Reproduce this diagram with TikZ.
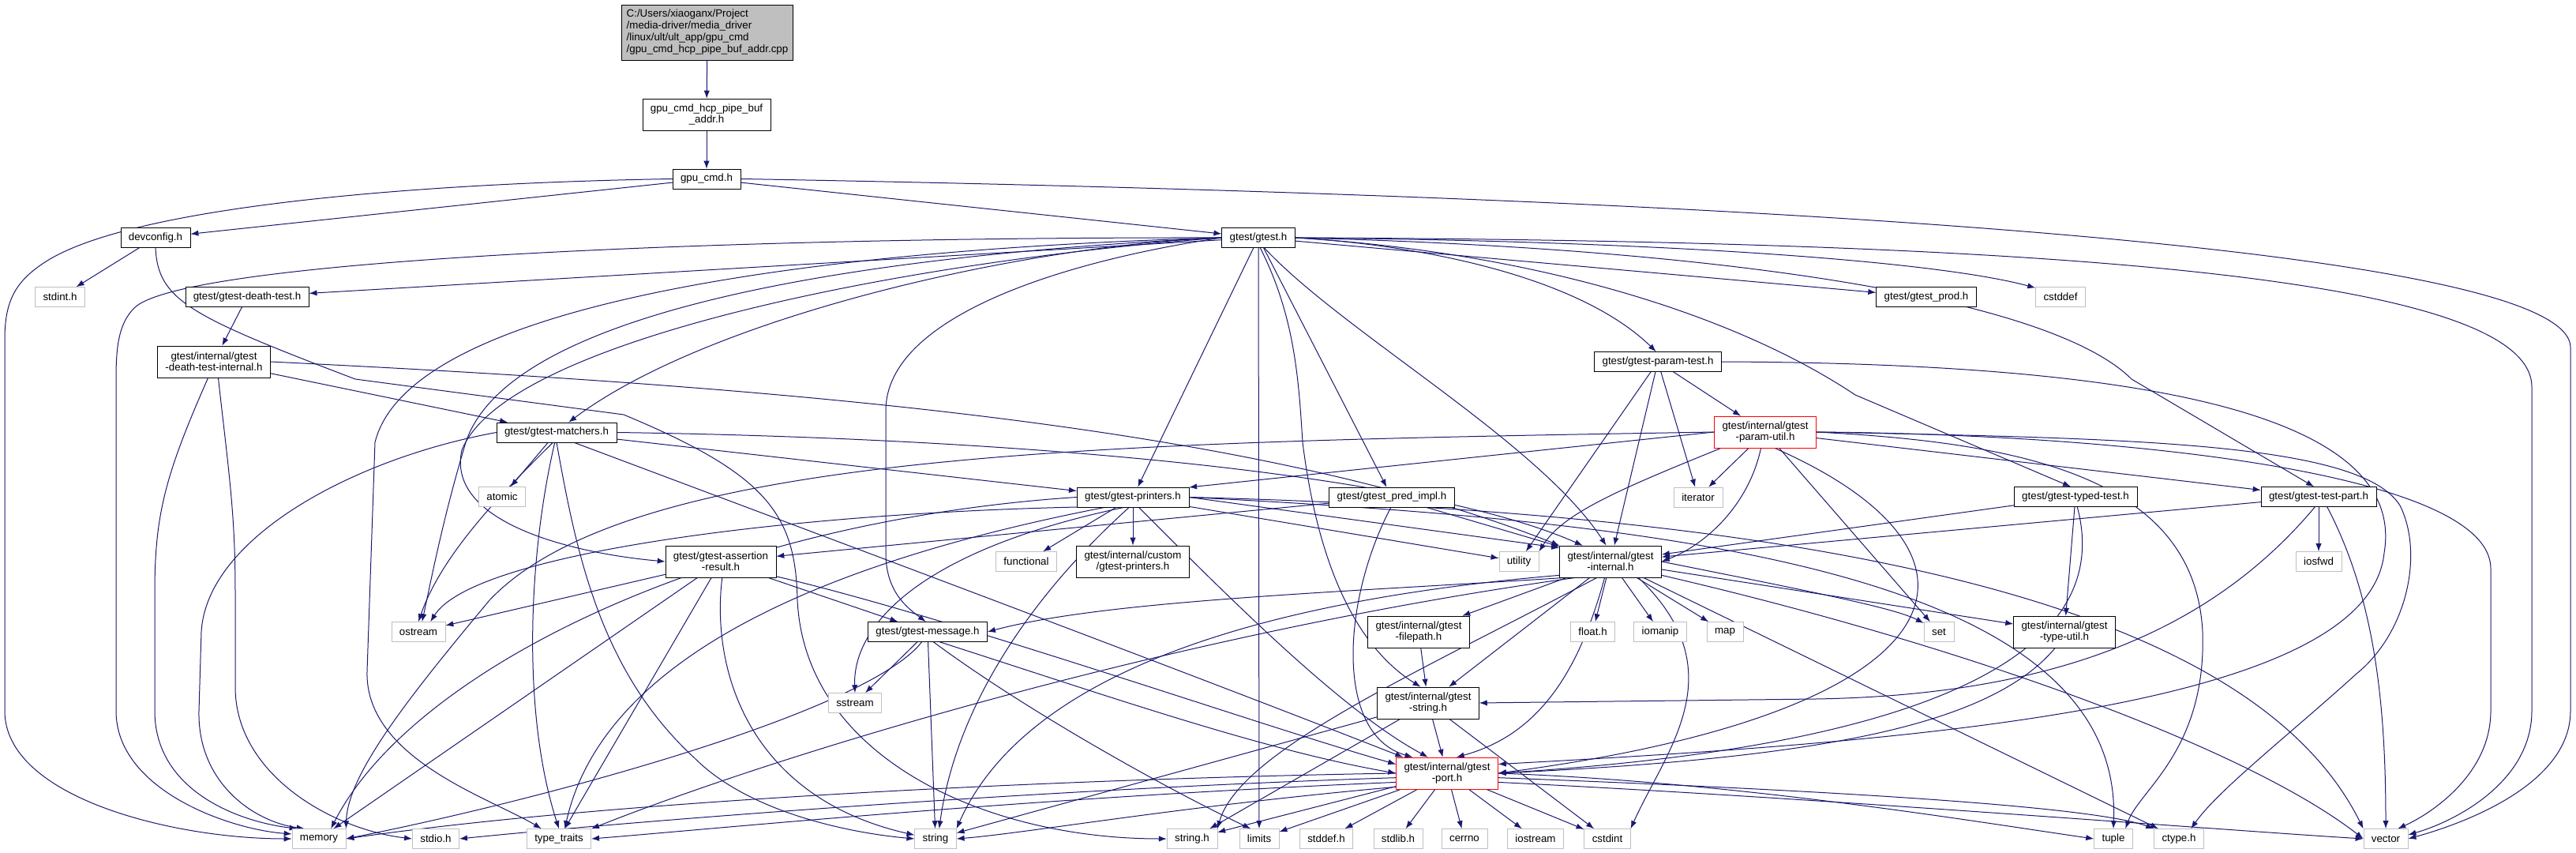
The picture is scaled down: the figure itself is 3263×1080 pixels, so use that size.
\documentclass[tikz,border=0pt]{standalone}
\usepackage{fontspec}
\setmainfont{Liberation Sans}
\usetikzlibrary{arrows,arrows.meta}
\definecolor{edgeblue}{RGB}{25,25,112}
\definecolor{sysgray}{RGB}{191,191,191}
\pgfdeclarelayer{edges}
\pgfsetlayers{edges,main}
\tikzstyle{hdr} = [draw=black, fill=white, minimum height=18.75pt, inner xsep=7.5pt, inner ysep=0pt, align=center, font=\fontsize{10}{10.5}\selectfont]
\tikzstyle{hdrtwo} = [hdr, minimum height=30pt]
\tikzstyle{sys} = [hdr, draw=sysgray]
\tikzstyle{trunctwo} = [hdrtwo, draw=red]
\tikzstyle{rootfile} = [hdr, fill=sysgray, align=left, inner xsep=4.5pt, minimum height=52.5pt, font=\fontsize{10}{11.25}\selectfont]
\tikzstyle{dep} = [style={->,>={Latex[length=7.5pt,width=5.5pt]},draw=edgeblue,line width=0.75pt}]

\begin{document}
\begin{tikzpicture}[x=0.75pt,y=-0.75pt]
        \useasboundingbox (0,0) rectangle (3263,1080);
        \node[rootfile] (root) at (896,41) {C:/Users/xiaoganx/Project\\/media-driver/media\_driver\\/linux/ult/ult\_app/gpu\_cmd\\/gpu\_cmd\_hcp\_pipe\_buf\_addr.cpp};
        \node[hdrtwo] (addrh) at (895,145) {gpu\_cmd\_hcp\_pipe\_buf\\\_addr.h};
        \node[hdr] (gpucmd) at (895,226.5) {gpu\_cmd.h};
        \node[hdr] (devcfg) at (197,301) {devconfig.h};
        \node[hdr] (gtest) at (1594,301) {gtest/gtest.h};
        \node[sys] (stdint) at (76,376) {stdint.h};
        \node[hdr] (death) at (313,376) {gtest/gtest-death-test.h};
        \node[hdr] (prod) at (2440,376) {gtest/gtest\_prod.h};
        \node[sys] (cstddef) at (2610,376) {cstddef};
        \node[hdrtwo] (deathint) at (271,458) {gtest/internal/gtest\\-death-test-internal.h};
        \node[hdr] (paramtest) at (2100,458) {gtest/gtest-param-test.h};
        \node[trunctwo] (paramutil) at (2236,547) {gtest/internal/gtest\\-param-util.h};
        \node[hdr] (matchers) at (705,547.5) {gtest/gtest-matchers.h};
        \node[sys] (atomic) at (636,629) {atomic};
        \node[sys] (iterator) at (2151,629.5) {iterator};
        \node[hdr] (printers) at (1435,629.5) {gtest/gtest-printers.h};
        \node[hdr] (predimpl) at (1763,629.5) {gtest/gtest\_pred\_impl.h};
        \node[hdr] (typed) at (2629,629) {gtest/gtest-typed-test.h};
        \node[hdr] (testpart) at (2937,629) {gtest/gtest-test-part.h};
        \node[sys] (functional) at (1300,711) {functional};
        \node[hdrtwo] (custom) at (1435,711) {gtest/internal/custom\\/gtest-printers.h};
        \node[sys] (utility) at (1924,711) {utility};
        \node[hdrtwo] (internal) at (2040,711) {gtest/internal/gtest\\-internal.h};
        \node[hdrtwo] (assertion) at (913,711) {gtest/gtest-assertion\\-result.h};
        \node[sys] (iosfwd) at (2937,711) {iosfwd};
        \node[sys] (ostream) at (530,800) {ostream};
        \node[hdr] (message) at (1175,800) {gtest/gtest-message.h};
        \node[hdrtwo] (filepath) at (1797,800) {gtest/internal/gtest\\-filepath.h};
        \node[sys] (floath) at (2017.5,800) {float.h};
        \node[sys] (iomanip) at (2103,800) {iomanip};
        \node[sys] (map) at (2185,800) {map};
        \node[sys] (set) at (2456,800) {set};
        \node[hdrtwo] (typeutil) at (2615,800) {gtest/internal/gtest\\-type-util.h};
        \node[sys] (sstream) at (1083,890) {sstream};
        \node[hdrtwo] (gstring) at (1809,890) {gtest/internal/gtest\\-string.h};
        \node[trunctwo] (port) at (1833,979) {gtest/internal/gtest\\-port.h};
        \node[sys] (memory) at (404,1062) {memory};
        \node[sys] (stdio) at (552,1062) {stdio.h};
        \node[sys] (typetraits) at (708,1062) {type\_traits};
        \node[sys] (string) at (1185,1062) {string};
        \node[sys] (stringh) at (1510,1062) {string.h};
        \node[sys] (limits) at (1595,1062) {limits};
        \node[sys] (stddefh) at (1680,1062) {stddef.h};
        \node[sys] (stdlibh) at (1771,1062) {stdlib.h};
        \node[sys] (cerrno) at (1855,1062) {cerrno};
        \node[sys] (iostream) at (1945,1062) {iostream};
        \node[sys] (cstdint) at (2036,1062) {cstdint};
        \node[sys] (tuple) at (2677,1062) {tuple};
        \node[sys] (ctypeh) at (2760,1062) {ctype.h};
        \node[sys] (vector) at (3022,1062) {vector};

        \begin{pgfonlayer}{edges}
        % top of the graph
        \draw[dep] (root) -- (addrh);
        \draw[dep] (addrh) -- (gpucmd);
        \draw[dep] (gpucmd) -- (devcfg);
        \draw[dep] (gpucmd) -- (gtest);
        \draw[dep] (gpucmd.west) .. controls (520,232) and (170,262) .. (60,330) .. controls (20,355) and (6,380) .. (6,430) -- (6,900) .. controls (6,1010) and (220,1062) .. (memory.west);
        \draw[dep] (gpucmd.east) .. controls (2000,245) and (3256,300) .. (3256,440) -- (3256,900) .. controls (3256,990) and (3130,1040) .. (vector.east);
        \draw[dep] (devcfg) -- (stdint);
        \draw[dep] (devcfg.south) .. controls (200,380) and (240,400) .. (450,480) -- (790,525) .. controls (970,600) and (1008,650) .. (1010,760) .. controls (1020,960) and (1250,1062) .. (stringh.west);
        % gtest.h
        \draw[dep] (gtest) -- (prod);
        \draw[dep] (gtest.east) .. controls (2100,305) and (2450,330) .. (cstddef.160);
        \draw[dep] (gtest.east) .. controls (2600,305) and (3207,350) .. (3207,490) -- (3207,900) .. controls (3207,990) and (3110,1040) .. (vector.10);
        \draw[dep] (gtest) -- (death);
        \draw[dep] (gtest.west) .. controls (900,300) and (230,330) .. (170,390) .. controls (150,410) and (147,440) .. (147,480) -- (147,900) .. controls (147,1000) and (290,1050) .. (memory.170);
        \draw[dep] (gtest.west) .. controls (1300,310) and (900,400) .. (matchers.40);
        \draw[dep] (gtest.west) .. controls (1150,320) and (650,380) .. (590,560) .. controls (560,660) and (545,740) .. (ostream.70);
        \draw[dep] (gtest.west) .. controls (1050,315) and (520,380) .. (475,560) -- (465,850) .. controls (462,960) and (620,1010) .. (typetraits.150);
        \draw[dep] (gtest.west) .. controls (1150,330) and (640,430) .. (585,570) .. controls (565,660) and (720,700) .. (assertion.west);
        \draw[dep] (gtest.west) .. controls (1350,330) and (1122,400) .. (1122,520) -- (1122,700) .. controls (1122,750) and (1150,770) .. (message.100);
        \draw[dep] (gtest) -- (printers);
        \draw[dep] (gtest) -- (limits);
        \draw[dep] (gtest.-80) .. controls (1640,400) and (1645,480) .. (1650,560) .. controls (1670,720) and (1720,820) .. (gstring.115);
        \draw[dep] (gtest) -- (predimpl);
        \draw[dep] (gtest.-60) .. controls (1700,420) and (1950,560) .. (internal.105);
        \draw[dep] (gtest.east) .. controls (1800,310) and (2000,350) .. (paramtest.100);
        \draw[dep] (gtest.east) .. controls (1950,320) and (2200,400) .. (2350,500) -- (typed.115);
        \draw[dep] (gtest.east) .. controls (2200,315) and (2600,380) .. (2700,480) -- (testpart.115);
        % death test headers
        \draw[dep] (death) -- (deathint);
        \draw[dep] (deathint.-110) .. controls (210,600) and (196,650) .. (196,750) -- (196,900) .. controls (196,1000) and (300,1040) .. (memory.155);
        \draw[dep] (deathint.-75) .. controls (290,600) and (298,650) .. (298,750) -- (298,870) .. controls (298,980) and (420,1050) .. (stdio.west);
        \draw[dep] (deathint) -- (matchers);
        \draw[dep] (deathint.east) .. controls (1000,490) and (1600,540) .. (internal.north west);
        % matchers
        \draw[dep] (matchers) -- (atomic);
        \draw[dep] (matchers.west) .. controls (450,580) and (262,680) .. (255,800) -- (252,900) .. controls (250,990) and (320,1040) .. (memory.145);
        \draw[dep] (matchers.-110) .. controls (640,620) and (560,700) .. (ostream.north);
        \draw[dep] (matchers.-90) .. controls (730,700) and (760,850) .. (880,960) .. controls (950,1030) and (1080,1055) .. (string.west);
        \draw[dep] (matchers.-100) .. controls (670,700) and (660,900) .. (typetraits.north);
        \draw[dep] (matchers) -- (printers);
        \draw[dep] (matchers.east) .. controls (1300,555) and (1800,600) .. (internal.150);
        \draw[dep] (matchers.-30) .. controls (1100,700) and (1500,850) .. (port.160);
        % printers
        \draw[dep] (printers) -- (functional);
        \draw[dep] (printers) -- (custom);
        \draw[dep] (printers.west) .. controls (900,660) and (520,850) .. (memory.40);
        \draw[dep] (printers.190) .. controls (1000,650) and (600,700) .. (ostream.40);
        \draw[dep] (printers.230) .. controls (1150,700) and (1080,800) .. (sstream.north);
        \draw[dep] (printers.-110) .. controls (1300,760) and (1210,900) .. (string.70);
        \draw[dep] (printers.east) .. controls (2100,660) and (2690,720) .. (tuple.north);
        \draw[dep] (printers.200) .. controls (1000,720) and (760,850) .. (typetraits.60);
        \draw[dep] (printers) -- (utility);
        \draw[dep] (printers.east) .. controls (2300,650) and (2850,760) .. (vector.north west);
        \draw[dep] (printers.east) -- (internal.165);
        \draw[dep] (printers.-60) .. controls (1560,760) and (1700,900) .. (port.140);
        % assertion result
        \draw[dep] (assertion) -- (memory);
        \draw[dep] (assertion) -- (ostream);
        \draw[dep] (assertion.-85) .. controls (900,850) and (950,1010) .. (string.170);
        \draw[dep] (assertion) -- (typetraits);
        \draw[dep] (assertion) -- (message);
        \draw[dep] (assertion.-15) .. controls (1200,780) and (1600,920) .. (port.170);
        % message
        \draw[dep] (message.-60) .. controls (1300,900) and (1480,1000) .. (limits.130);
        \draw[dep] (message.-120) .. controls (1100,900) and (700,1010) .. (memory.east);
        \draw[dep] (message) -- (sstream);
        \draw[dep] (message) -- (string);
        \draw[dep] (message.-40) .. controls (1400,880) and (1600,950) .. (port.west);
        % param test
        \draw[dep] (paramtest) -- (iterator);
        \draw[dep] (paramtest) -- (utility);
        \draw[dep] (paramtest) -- (internal);
        \draw[dep] (paramtest) -- (paramutil);
        \draw[dep] (paramtest.east) .. controls (2700,460) and (3050,520) .. (3020,700) .. controls (3000,900) and (2400,940) .. (port.10);
        \draw[dep] (paramutil.west) -- (printers.10);
        \draw[dep] (paramutil) -- (iterator);
        \draw[dep] (paramutil) -- (set);
        \draw[dep] (paramutil.200) .. controls (2050,620) and (1980,650) .. (utility.north east);
        \draw[dep] (paramutil.-105) .. controls (2215,640) and (2160,690) .. (internal.east);
        \draw[dep] (paramutil.west) .. controls (1400,560) and (800,570) .. (620,760) .. controls (520,880) and (440,980) .. (memory.north east);
        \draw[dep] (paramutil.east) .. controls (2550,560) and (2780,600) .. (2790,800) .. controls (2795,950) and (2710,1000) .. (tuple.40);
        \draw[dep] (paramutil.east) .. controls (2700,555) and (2990,560) .. (3040,640) .. controls (3070,700) and (3050,800) .. (2985,853) .. controls (2900,930) and (2810,1000) .. (ctypeh.40);
        \draw[dep] (paramutil.east) .. controls (2700,550) and (3155,600) .. (3155,720) -- (3155,900) .. controls (3155,980) and (3080,1030) .. (vector.40);
        \draw[dep] (paramutil) -- (testpart);
        \draw[dep] (paramutil.-60) .. controls (2550,700) and (2500,900) .. (port.east);
        % pred impl, typed test, test part
        \draw[dep] (predimpl) -- (assertion);
        \draw[dep] (predimpl) -- (internal);
        \draw[dep] (predimpl.-95) .. controls (1700,760) and (1690,930) .. (port.155);
        \draw[dep] (typed) -- (internal);
        \draw[dep] (typed.-80) .. controls (2700,900) and (2200,960) .. (port.east);
        \draw[dep] (typed) -- (typeutil);
        \draw[dep] (testpart) -- (iosfwd);
        \draw[dep] (testpart.-50) .. controls (3010,760) and (3022,900) .. (vector.north);
        \draw[dep] (testpart) -- (internal);
        \draw[dep] (testpart.-110) .. controls (2800,800) and (2600,880) .. (2300,885) -- (gstring.east);
        % internal
        \draw[dep] (internal.200) .. controls (1700,750) and (1400,760) .. (message.east);
        \draw[dep] (internal) -- (filepath);
        \draw[dep] (internal) -- (gstring);
        \draw[dep] (internal.-110) .. controls (2000,850) and (1950,930) .. (port.60);
        \draw[dep] (internal) -- (floath);
        \draw[dep] (internal) -- (iomanip);
        \draw[dep] (internal) -- (map);
        \draw[dep] (internal.east) .. controls (2300,750) and (2400,770) .. (set.150);
        \draw[dep] (internal) -- (typeutil);
        \draw[dep] (internal) -- (ctypeh);
        \draw[dep] (internal.-15) .. controls (2500,820) and (2850,950) .. (vector.west);
        \draw[dep] (internal.-30) .. controls (2200,850) and (2110,950) .. (cstdint.north east);
        \draw[dep] (internal.230) .. controls (1800,850) and (1570,950) .. (stringh.north east);
        \draw[dep] (internal.195) .. controls (1600,760) and (1300,850) .. (string.north east);
        \draw[dep] (internal.205) .. controls (1500,800) and (1000,950) .. (typetraits.north east);
        % filepath, string, type util
        \draw[dep] (filepath) -- (gstring);
        \draw[dep] (gstring) -- (stringh);
        \draw[dep] (gstring) -- (string);
        \draw[dep] (gstring) -- (cstdint);
        \draw[dep] (gstring) -- (port);
        \draw[dep] (typeutil.-120) .. controls (2520,920) and (2300,960) .. (port.east);
        % port
        \draw[dep] (port.west) .. controls (1400,985) and (800,1010) .. (memory.east);
        \draw[dep] (port.185) .. controls (1300,1000) and (800,1040) .. (stdio.east);
        \draw[dep] (port.190) .. controls (1300,1010) and (900,1050) .. (typetraits.east);
        \draw[dep] (port.195) .. controls (1500,1020) and (1300,1055) .. (string.east);
        \draw[dep] (port) -- (stringh);
        \draw[dep] (port) -- (limits);
        \draw[dep] (port) -- (stddefh);
        \draw[dep] (port) -- (stdlibh);
        \draw[dep] (port) -- (cerrno);
        \draw[dep] (port) -- (iostream);
        \draw[dep] (port) -- (cstdint);
        \draw[dep] (port.east) .. controls (2200,990) and (2500,1040) .. (tuple.west);
        \draw[dep] (port.-5) .. controls (2300,1000) and (2650,1020) .. (ctypeh.north west);
        \draw[dep] (port.-10) .. controls (2300,1010) and (2800,1050) .. (vector.west);
        \end{pgfonlayer}
      \end{tikzpicture}
\end{document}
